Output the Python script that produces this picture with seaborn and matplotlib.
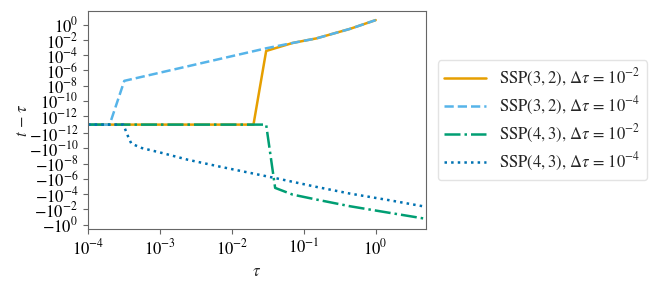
import numpy as np
import pandas as pd
import matplotlib
matplotlib.use("Agg")
import matplotlib.pyplot as plt
import matplotlib.ticker as mticker
import seaborn as sns

# valori (tau, t - tau)
tau_32_dt2 = [1e-4, 0.02, 0.03, 0.07, 0.15, 0.44, 1.0]
err_32_dt2 = [0.0, 0.0, 10**-3.45, 10**-2.4, 10**-1.8, 10**-0.55, 10**0.6]

tau_32_dt4 = [1e-4, 2e-4, 3.2e-4, 0.03, 0.07, 0.15, 0.44, 1.0]
err_32_dt4 = [0.0, 0.0, 10**-7.37, 10**-3.1, 10**-2.4, 10**-1.8, 10**-0.55, 10**0.6]

tau_43_dt2 = [1e-4, 0.03, 0.04, 0.07, 0.15, 0.44, 1.55, 5.0]
err_43_dt2 = [0.0, 0.0, -10**-4.81, -10**-3.93, -10**-3.28, -10**-2.4, -10**-1.54, -10**-0.75]

tau_43_dt4 = [1e-4, 3.1e-4, 3.7e-4, 4.0e-4, 4.7e-4, 5.6e-4, 1.07e-3, 2.45e-3,
              7.1e-3, 0.04, 0.15, 0.44, 1.55, 5.0]
err_43_dt4 = [0.0, 0.0, -10**-11.3, -10**-10.64, -10**-10.34, -10**-10.04,
              -10**-9.39, -10**-8.5, -10**-7.56, -10**-6.1, -10**-4.94,
              -10**-4.06, -10**-3.19, -10**-2.33]

labels = [r'SSP$(3,2)$, $\Delta\tau$ = $10^{-2}$',
          r'SSP$(3,2)$, $\Delta\tau$ = $10^{-4}$',
          r'SSP$(4,3)$, $\Delta\tau$ = $10^{-2}$',
          r'SSP$(4,3)$, $\Delta\tau$ = $10^{-4}$']
colori = ['#E69F00', '#56B4E9', '#009E73', '#0072B2']
stili = ['-', '--', '-.', ':']

ytick_exp = [0, -2, -4, -6, -8, -10, -12]

sns.set_style('ticks')
plt.rcParams['font.family'] = ['STIXGeneral', 'DejaVu Serif']
plt.rcParams['mathtext.fontset'] = 'stix'
plt.rcParams['axes.edgecolor'] = '#666666'
plt.rcParams['xtick.color'] = '#666666'
plt.rcParams['ytick.color'] = '#666666'
plt.rcParams['xtick.labelcolor'] = 'black'
plt.rcParams['ytick.labelcolor'] = 'black'

fig = plt.figure(figsize=(6.64, 2.85), dpi=100)
ax = fig.add_axes([0.1325, 0.196, 0.509, 0.765])

serie = [(tau_32_dt2, err_32_dt2), (tau_32_dt4, err_32_dt4),
         (tau_43_dt2, err_43_dt2), (tau_43_dt4, err_43_dt4)]
for (t, e), lab, c, ls in zip(serie, labels, colori, stili):
    df = pd.DataFrame({'tau': t, 'err': e})
    sns.lineplot(data=df, x='tau', y='err', ax=ax, color=c, linestyle=ls,
                 linewidth=1.8, label=lab, estimator=None, sort=False)

ax.set_xscale('log')
ax.set_yscale('symlog', linthresh=1e-12, linscale=1)
ax.set_xlim(1e-4, 5)
ax.set_ylim(-4, 60)

yt = [10.0**k for k in ytick_exp] + [-10.0**k for k in ytick_exp]
ylab = [r'$10^{%d}$' % k for k in ytick_exp] + [r'$-10^{%d}$' % k for k in ytick_exp]
ax.yaxis.set_major_locator(mticker.FixedLocator(yt))
ax.yaxis.set_major_formatter(mticker.FixedFormatter(ylab))
ax.yaxis.set_minor_locator(mticker.NullLocator())
ax.xaxis.set_major_locator(mticker.LogLocator(base=10, numticks=10))
ax.xaxis.set_minor_locator(mticker.NullLocator())
ax.tick_params(labelsize=12, length=3.5, width=0.8)

ax.set_xlabel(r'$\tau$', fontsize=12)
ax.set_ylabel(r'$t\,-\,\tau$', fontsize=12, labelpad=-2)

ax.legend(loc='center left', bbox_to_anchor=(1.0, 0.5), fontsize=12,
          handlelength=2.5, borderaxespad=0.7, labelspacing=0.35,
          edgecolor='#dddddd')

fig.savefig('out.png', dpi=100)
